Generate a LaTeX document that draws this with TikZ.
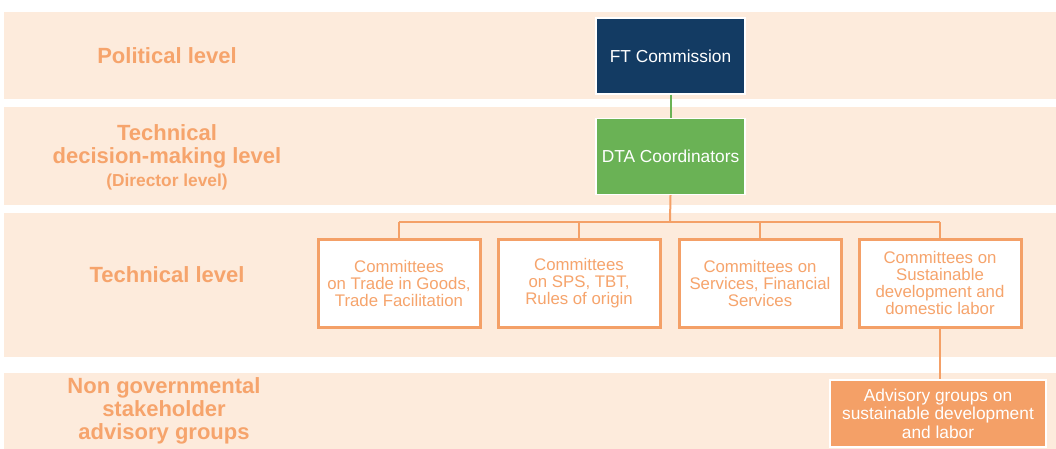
\documentclass[tikz,border=0pt]{standalone}
\usepackage{fontspec}
\setmainfont{Liberation Sans}
\usepackage{tikz}

\definecolor{band}{HTML}{FDEBDC}
\definecolor{orangetxt}{HTML}{F6A46C}
\definecolor{orangeln}{HTML}{F4A067}
\definecolor{navy}{HTML}{133B63}
\definecolor{leafgreen}{HTML}{6AB255}

\begin{document}
\begin{tikzpicture}[x=0.75pt, y=-0.75pt,
	levelband/.style={fill=band, draw=none},
	levellabel/.style={text=orangetxt, align=center, font=\bfseries\fontsize{16.5}{17.25}\selectfont},
	topbox/.style={draw=white, line width=1pt, text=white, minimum width=149*0.75pt, minimum height=76*0.75pt, font=\fontsize{13}{15}\selectfont},
	committee/.style={draw=orangeln, line width=2.25pt, fill=white, text=orangetxt, align=center, minimum width=162*0.75pt, minimum height=88*0.75pt, font=\fontsize{12.6}{12.75}\selectfont},
	link/.style={line width=1.5pt}]
	\useasboundingbox (0,0) rectangle (1056,449);
	\fill[white] (0,0) rectangle (1056,449);
	% bands
	\fill[levelband] (4,12) rectangle (1056,99);
	\fill[levelband] (4,107) rectangle (1056,205);
	\fill[levelband] (4,213) rectangle (1056,357);
	\fill[levelband] (4,373) rectangle (1056,449);
	% level names
	\node[levellabel] (political) at (167,56) {Political level};
	\node[levellabel] (decision) at (167,157) {Technical\\decision-making level\\{\fontsize{13}{15}\selectfont (Director level)}};
	\node[levellabel] (technical) at (167,275) {Technical level};
	\node[levellabel] (ngo) at (164,411) {Non governmental\\stakeholder\\advisory groups};
	% boxes
	\node[topbox, fill=navy] (ft) at (670.5,56) {FT Commission};
	\node[topbox, fill=leafgreen] (dta) at (670.5,156.5) {DTA Coordinators};
	\node[committee] (c1) at (399,283) {Committees\\on Trade in Goods,\\Trade Facilitation};
	\node[committee] (c2) at (579,283) {Committees\\on SPS, TBT,\\Rules of origin};
	\node[committee] (c3) at (760,283) {Committees on\\Services, Financial\\Services};
	\node[committee] (c4) at (940,283) {Committees on\\Sustainable\\development and\\domestic labor};
	\node[topbox, fill=orangeln, align=center, minimum width=216*0.75pt, minimum height=67*0.75pt, font=\fontsize{13}{14}\selectfont] (adv) at (938,413.5) {Advisory groups on\\sustainable development\\and labor};
	% connectors
	\coordinate (bus) at (670,222);
	\draw[link, leafgreen] (ft.south) -- (dta.north);
	\draw[link, orangeln] (dta.south) -- (bus);
	\draw[link, orangeln] (c1.north |- bus) -- (c4.north |- bus);
	\foreach \c in {c1,c2,c3,c4}
		\draw[link, orangeln] (\c.north |- bus) -- (\c.north);
	\draw[link, orangeln] (c4.south) -- (c4.south |- adv.north);
\end{tikzpicture}
\end{document}
